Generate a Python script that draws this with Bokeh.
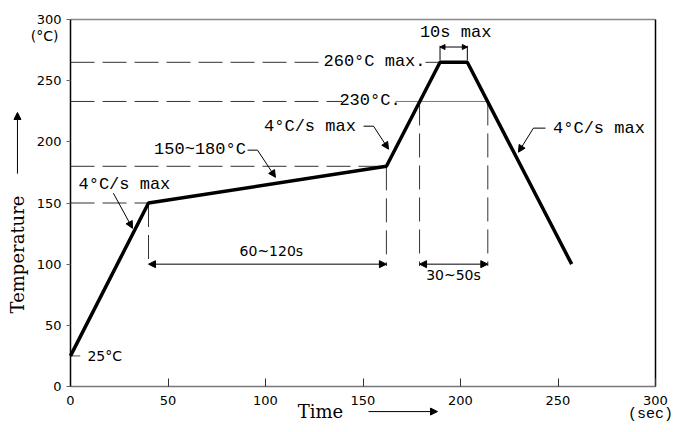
from bokeh.plotting import figure
from bokeh.models import Arrow, NormalHead, LinearAxis, FixedTicker, ColumnDataSource
from bokeh.core.properties import value
from bokeh.embed import file_html
from bokeh.resources import INLINE
import math

# ---- data ----
time_s = [0, 40, 162, 189.5, 203.5, 257]
temp_c = [25, 150, 180, 265, 265, 100]
x_ticks = [0, 50, 100, 150, 200, 250, 300]
y_ticks = [0, 50, 100, 150, 200, 250, 300]
ambient = 25
preheat_lo = 150
preheat_hi = 180
liquidus = 233
peak = 265
t_pre_start = 40
t_pre_end = 162
t_liq_in = 179
t_liq_out = 214
t_peak_start = 189.5
t_peak_end = 203.5
dim_level = 100
x_max = 300
y_max = 300

MONO = "Liberation Mono"
SANS = "DejaVu Sans"
SERIF = "DejaVu Serif"

W, H = 674, 424
# frame fills the whole canvas; plot box 0..300 sits at px 70..655 (x) and 19..386 (y)
sx = 585 / 300.0
sy = 367 / 300.0
x_range = (-70 / sx, (W - 70) / sx)
y_range = ((386 - H) / sy, 386 / sy)

p = figure(width=W, height=H, x_range=x_range, y_range=y_range, title=None,
           x_axis_type=None, y_axis_type=None,
           output_backend="svg", toolbar_location=None,
           min_border_left=0, min_border_right=0, min_border_top=0, min_border_bottom=0)
p.outline_line_color = None
p.background_fill_color = "white"
p.border_fill_color = "white"

xa = LinearAxis(fixed_location=0, bounds=(0, x_max), ticker=FixedTicker(ticks=x_ticks))
xa.major_tick_in = 8
xa.major_tick_out = 0
xa.minor_tick_line_color = None
xa.axis_line_color = "#777777"
xa.axis_line_width = 1.5
xa.major_tick_line_color = "#333333"
xa.major_label_text_font = SANS
xa.major_label_text_font_size = "13px"
xa.major_label_text_color = "black"
xa.major_label_standoff = 9
p.add_layout(xa, "below")

ya = LinearAxis(fixed_location=0, bounds=(0, y_max), ticker=FixedTicker(ticks=y_ticks))
ya.major_tick_in = 0
ya.major_tick_out = 4
ya.minor_tick_line_color = None
ya.axis_line_color = "black"
ya.axis_line_width = 1.5
ya.major_tick_line_color = "#666666"
ya.major_label_text_font = SANS
ya.major_label_text_font_size = "13px"
ya.major_label_text_color = "black"
ya.major_label_standoff = 5
p.add_layout(ya, "left")

# top and right borders of the plot box
p.line([0, x_max], [y_max, y_max], line_color="#888888", line_width=1.5)
p.line([x_max, x_max], [0, y_max], line_color="black", line_width=1.5)

DASH = "24 8"
DC = "#333333"
# horizontal reference lines
p.line([0, t_pre_start], [preheat_lo, preheat_lo], line_dash=DASH, line_color=DC, line_width=1)
p.line([0, t_pre_end], [preheat_hi, preheat_hi], line_dash=DASH, line_color=DC, line_width=1)
p.line([0, 139.3], [liquidus, liquidus], line_dash=DASH, line_color=DC, line_width=1)
p.line([166.7, t_liq_out], [liquidus, liquidus], line_color="#777777", line_width=1)
p.line([0, 128.2], [peak, peak], line_dash=DASH, line_color=DC, line_width=1)
p.line([182, t_peak_start], [peak, peak], line_color=DC, line_width=1)

# vertical reference lines
for t, top in [(t_pre_start, preheat_lo), (t_pre_end, preheat_hi), (t_liq_in, liquidus), (t_liq_out, liquidus)]:
    p.line([t, t], [top, dim_level - 1.5], line_dash=DASH, line_color=DC, line_width=1)

# ambient marker
p.line([0, 5], [ambient, ambient], line_color="#555555", line_width=1)

# profile
p.line(time_s, temp_c, line_color="black", line_width=3.5)

def head(s=7):
    return NormalHead(size=s, fill_color="black", line_color="black", line_width=1)

# dimension arrows
p.add_layout(Arrow(start=head(), end=head(), x_start=t_pre_start, y_start=dim_level,
                   x_end=t_pre_end, y_end=dim_level, line_width=1, line_color="black"))
p.add_layout(Arrow(start=head(), end=head(), x_start=t_liq_in, y_start=dim_level,
                   x_end=t_liq_out, y_end=dim_level, line_width=1, line_color="black"))
# 10 s bracket
p.line([t_peak_start, t_peak_start], [266.5, 278.5], line_color="black", line_width=1)
p.line([t_peak_end, t_peak_end], [266.5, 278.5], line_color="black", line_width=1)
p.add_layout(Arrow(start=head(5), end=head(5), x_start=t_peak_start, y_start=277.5,
                   x_end=t_peak_end, y_end=277.5, line_width=1, line_color="black"))

# leaders
p.add_layout(Arrow(end=head(7), x_start=22, y_start=158, x_end=31.8, y_end=129.3,
                   line_width=1, line_color="black"))
p.line([90.8, 95.9], [193.2, 193.2], line_color="black", line_width=1)
p.add_layout(Arrow(end=head(7), x_start=95.9, y_start=193.2, x_end=105.1, y_end=171,
                   line_width=1, line_color="black"))
p.line([150.3, 155.4], [212.8, 212.8], line_color="black", line_width=1)
p.add_layout(Arrow(end=head(7), x_start=155.4, y_start=212.8, x_end=163.1, y_end=194,
                   line_width=1, line_color="black"))
p.line([243.6, 237.4], [211.2, 211.2], line_color="black", line_width=1)
p.add_layout(Arrow(end=head(7), x_start=237.4, y_start=211.2, x_end=229.7, y_end=191.5,
                   line_width=1, line_color="black"))

# in-plot texts
mono_src = ColumnDataSource(dict(
    x=[122.8, 271, 66.4, 155.9, 153.6, 197.5],
    y=[212.8, 211.2, 194, 266, 234, 289],
    t=["4°C/s max", "4°C/s max", "150~180°C", "260°C max.", "230°C.", "10s max"]))
p.text(x="x", y="y", text="t", source=mono_src, text_font=value(MONO), text_font_size="17px",
       text_align="center", text_baseline="middle", text_color="black")
p.text(x=[4.1], y=[165.3], text=["4°C/s max"], text_font=value(MONO), text_font_size="17px",
       text_align="left", text_baseline="middle", text_color="black")
p.text(x=[103, 196.4], y=[110.5, 91], text=["60~120s", "30~50s"], text_font=value(SANS),
       text_font_size="14px", text_align="center", text_baseline="middle", text_color="black")
p.text(x=[8.7], y=[ambient], text=["25°C"], text_font=value(SANS),
       text_font_size="14px", text_align="left", text_baseline="middle", text_color="black")

# axis titles and units
p.text(x=[-13.3], y=[286.9], text=["(°C)"], text_font=value(SANS), text_font_size="14px",
       text_align="center", text_baseline="middle", text_color="black")
p.text(x=[309.0], y=[-23.0], text=["(sec)"], text_font=value(MONO), text_font_size="15px",
       text_align="right", text_baseline="middle", text_color="black")
p.text(x=[-27.2], y=[107.9], text=["Temperature"], angle=[math.pi / 2], text_font=value(SERIF),
       text_font_size="18px", text_align="center", text_baseline="middle", text_color="black")
p.text(x=[128.2], y=[-20.5], text=["Time"], text_font=value(SERIF),
       text_font_size="18px", text_align="center", text_baseline="middle", text_color="black")
p.add_layout(Arrow(end=head(7), x_start=-27.2, y_start=174, x_end=-27.2, y_end=224,
                   line_width=1, line_color="black"))
p.add_layout(Arrow(end=head(7), x_start=152.8, y_start=-20.5, x_end=188.2, y_end=-20.5,
                   line_width=1, line_color="black"))

open("out.html", "w").write(file_html(p, INLINE))
